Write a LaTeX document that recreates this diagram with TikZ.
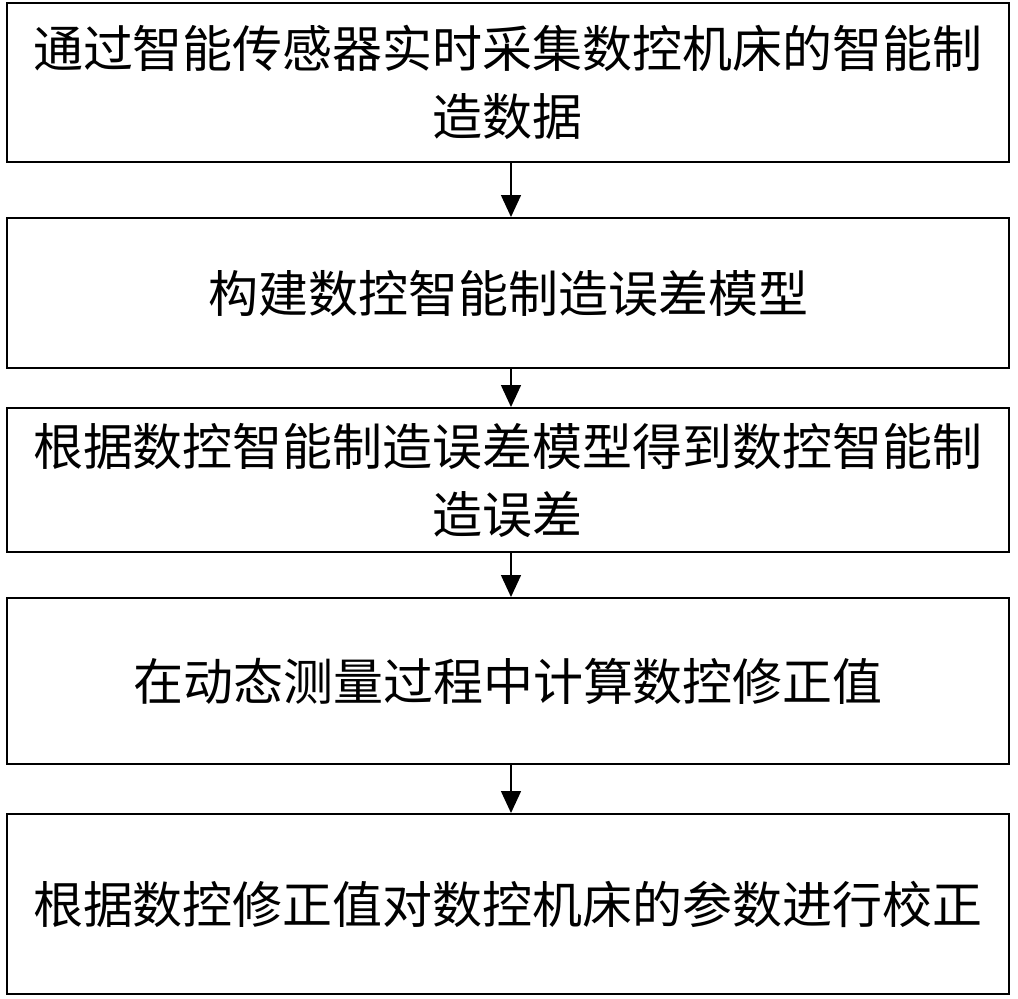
\documentclass[tikz,border=0pt]{standalone}
\usepackage{fontspec}
\newfontfamily\cjk{Noto Sans CJK SC}
\usetikzlibrary{arrows.meta}
\begin{document}
\begin{tikzpicture}[x=1pt,y=-1pt,
  stepbox/.style={draw,line width=2pt,inner sep=0pt},
  lbl/.style={font=\cjk\fontsize{50}{68}\selectfont,align=center},
  arr/.style={line width=1.5pt,-{Triangle[width=20pt,length=22pt]}}]
\useasboundingbox (0,0) rectangle (1018,999);
\node[stepbox,minimum width=1002pt,minimum height=159pt] (b1) at (508,82.5) {};
\node[lbl] at (b1.center) {通过智能传感器实时采集数控机床的智能制\\造数据};
\node[stepbox,minimum width=1002pt,minimum height=150pt] (b2) at (508,293) {};
\node[lbl] at (b2.center) {构建数控智能制造误差模型};
\node[stepbox,minimum width=1002pt,minimum height=144pt] (b3) at (508,480) {};
\node[lbl] at (b3.center) {根据数控智能制造误差模型得到数控智能制\\造误差};
\node[stepbox,minimum width=1002pt,minimum height=166pt] (b4) at (508,681) {};
\node[lbl] at (b4.center) {在动态测量过程中计算数控修正值};
\node[stepbox,minimum width=1002pt,minimum height=180pt] (b5) at (508,904) {};
\node[lbl] at (b5.center) {根据数控修正值对数控机床的参数进行校正};
\draw[arr] (b1.south -| 511,0) -- (b2.north -| 511,0);
\draw[arr] (b2.south -| 511,0) -- (b3.north -| 511,0);
\draw[arr] (b3.south -| 511,0) -- (b4.north -| 511,0);
\draw[arr] (b4.south -| 511,0) -- (b5.north -| 511,0);
\end{tikzpicture}
\end{document}
